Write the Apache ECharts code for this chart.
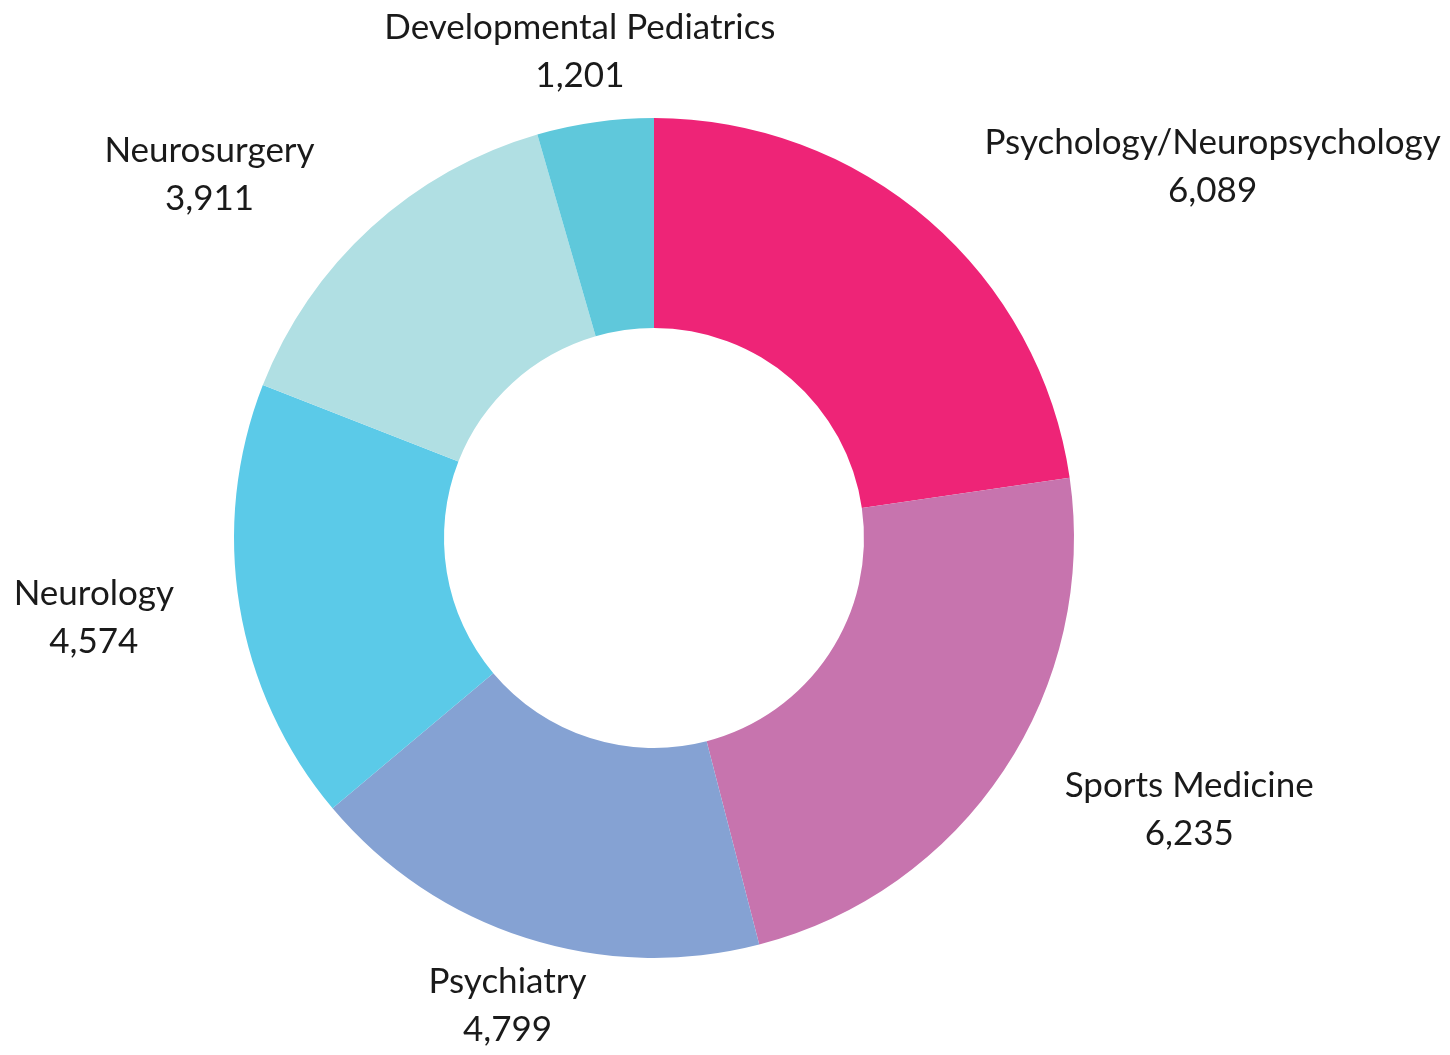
<!DOCTYPE html>
<html><head><meta charset="utf-8">
<script src="https://cdn.jsdelivr.net/npm/echarts@6/dist/echarts.min.js"></script>
<style>html,body{margin:0;padding:0;background:#fff}#c{width:1450px;height:1055px}</style>
</head><body><div id="c"></div>
<script>
const categories = ["Psychology/Neuropsychology","Sports Medicine","Psychiatry","Neurology","Neurosurgery","Developmental Pediatrics"];
const values = [6089,6235,4799,4574,3911,1201];
const colors = ["#EE2477","#C774AE","#85A2D3","#5BCAE8","#B0DFE3","#5FC8DB"];

const CX = 654, CY = 538, R_OUT = 420, R_IN = 210, START = 90;
const GAP_R = 30, GAP_X = 36;
const total = values.reduce((a,b)=>a+b,0);
const midAngles = [];
(function(){ let acc = 0; values.forEach(v=>{ midAngles.push(START - (acc + v/2)/total*360); acc += v; }); })();

const chart = echarts.init(document.getElementById('c'));
chart.setOption({
  animation:false,
  series:[{
    type:'pie',
    center:[CX,CY],
    radius:[R_IN,R_OUT],
    startAngle:START,
    clockwise:true,
    avoidLabelOverlap:false,
    data:categories.map((n,i)=>({name:n,value:values[i],itemStyle:{color:colors[i]}})),
    label:{
      show:true,position:'outside',
      formatter:p=>'{a|'+p.name+'}\n{a|'+p.value.toLocaleString('en-US')+'}',
      rich:{a:{fontFamily:'Lato',fontSize:35,lineHeight:48,color:'#1a1a1a',align:'center'}}
    },
    labelLine:{show:false,length:30,length2:20},
    labelLayout:function(params){
      const th = midAngles[params.dataIndex]*Math.PI/180;
      const c = Math.cos(th), s = Math.sin(th);
      const w = params.labelRect.width, h = params.labelRect.height;
      const ax = CX + (R_OUT+GAP_R)*c, ay = CY - (R_OUT+GAP_R)*s;
      let x;
      if (Math.abs(c) >= 0.5) x = ax + Math.sign(c)*(w/2 + GAP_X);
      else x = ax + c*(w/2)*0.4;
      const y = ay - s*h/2;
      return {x:x, y:y, align:'center', verticalAlign:'middle'};
    }
  }]
});
</script></body></html>
